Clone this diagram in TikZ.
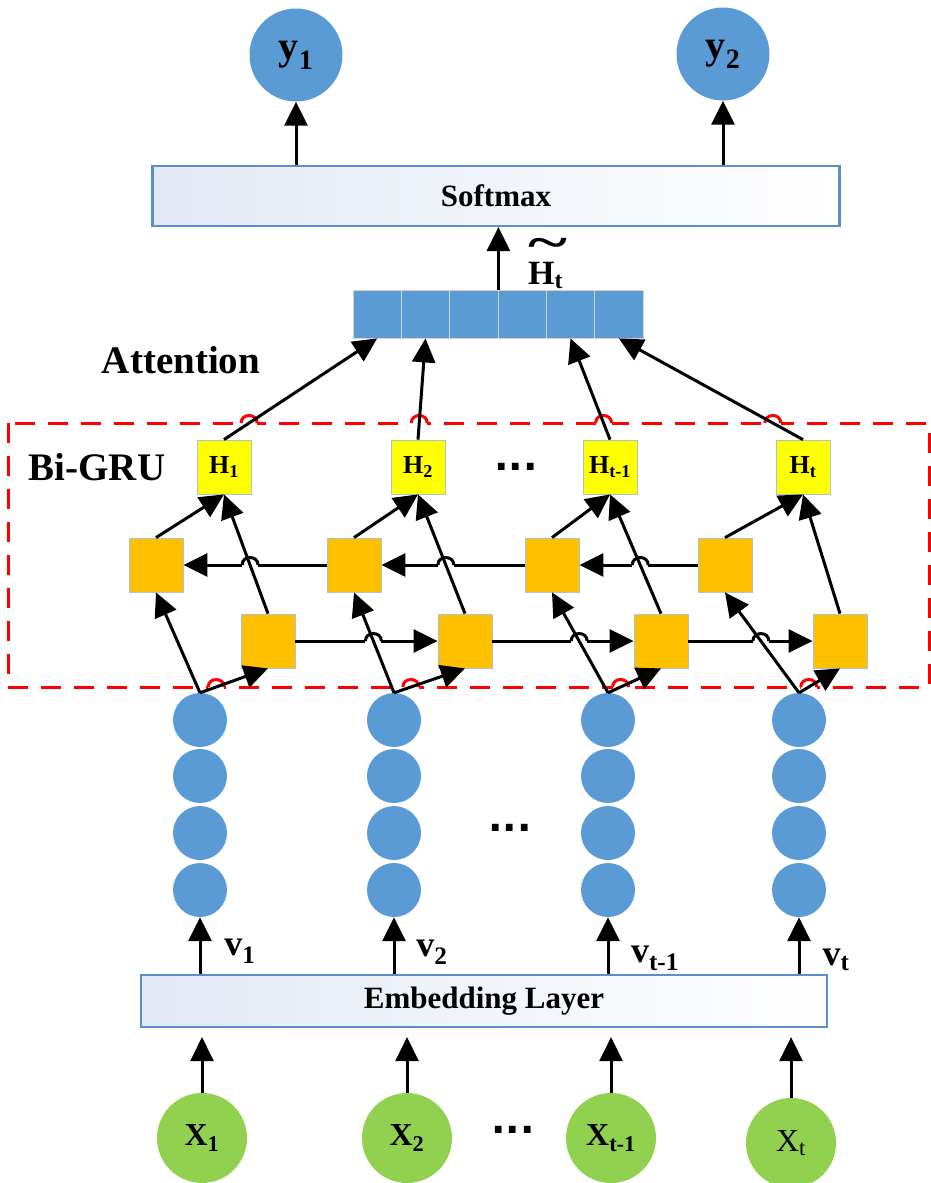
\documentclass[tikz,border=0pt]{standalone}
\usepackage{fontspec}
\setmainfont{Liberation Serif}
\newfontfamily\dotsfont{DejaVu Sans}
\usetikzlibrary{arrows.meta}
\definecolor{nodeblue}{HTML}{5B9BD5}
\definecolor{nodegreen}{HTML}{92D050}
\definecolor{gruorange}{HTML}{FFC000}
\definecolor{hidyellow}{HTML}{FFFF00}
\definecolor{boxline}{HTML}{5B8FC9}
\definecolor{boxfill}{HTML}{E2E9F5}
\definecolor{thinline}{HTML}{A9C2DA}
\newcommand{\fsize}[1]{\fontsize{#1}{#1}\selectfont}
%% small bump where one line jumps over another
\newcommand{\linejump}[2]{%
  \draw[white,line width=5pt] ([xshift=-8pt]#2) -- ([xshift=8pt]#2);
  \draw[#1,line width=3pt] ([xshift=-8pt]#2) .. controls ([xshift=-8pt,yshift=10pt]#2) and ([xshift=8pt,yshift=10pt]#2) .. ([xshift=8pt]#2);}

\begin{document}
\begin{tikzpicture}
[x=1pt,y=-1pt,
 arrowline/.style={line width=3pt,-{Triangle[length=24pt,width=23pt]}},
 outcircle/.style={circle,fill=nodeblue,minimum size=93pt,inner sep=0pt,font=\fsize{40}\bfseries},
 incircle/.style={circle,fill=nodegreen,minimum size=90pt,inner sep=0pt,font=\fsize{32}\bfseries},
 unitcircle/.style={circle,fill=nodeblue,minimum size=54pt,inner sep=0pt},
 layerbox/.style={rectangle,draw=boxline,line width=2.2pt,left color=boxfill,middle color=white,right color=white,inner sep=0pt,font=\fsize{31}\bfseries},
 vcell/.style={rectangle,fill=nodeblue,draw=gray!35,line width=0.8pt,minimum width=48.33pt,minimum height=48pt,inner sep=0pt},
 hbox/.style={rectangle,fill=hidyellow,draw=thinline,line width=0.8pt,minimum size=54pt,inner sep=0pt,font=\fsize{26}\bfseries},
 gbox/.style={rectangle,fill=gruorange,draw=thinline,line width=0.8pt,minimum size=54pt,inner sep=0pt},
 titlelabel/.style={font=\fsize{39}\bfseries},
 vlabel/.style={font=\fsize{36}\bfseries},
 dotslabel/.style={font=\dotsfont\fsize{38}\bfseries},
 gruframe/.style={draw=red,line width=3pt,dash pattern=on 20pt off 13pt}]
\useasboundingbox (0,0) rectangle (931,1183);

%% output layer
\node[outcircle] (y1) at (296,55) {y\textsubscript{1}};
\node[outcircle] (y2) at (723,54) {y\textsubscript{2}};
\node[layerbox,minimum width=687pt,minimum height=60pt] (softmax) at (496,196) {Softmax};
\foreach \i in {1,...,6}
{
  \node[vcell] (c\i) at (353+48.33*\i-24.17,314) {};
}
\node[font=\fsize{34}\bfseries,anchor=base west,inner sep=0pt] (htilde) at (528,284)
  {\makebox[0pt][l]{\raisebox{0.74em}{\scalebox{2.2}[1.4]{\textasciitilde}}}H\textsubscript{t}};
\node[titlelabel] (attn) at (181,360) {Attention};

%% Bi-GRU layer
\node[titlelabel] (bigru) at (97,467) {Bi-GRU};
\foreach \n/\hx/\bx/\fx/\ex/\s in {1/224/156/268/200/1, 2/418/354/465/394/2, 3/610/552/661/608/t-1, 4/803/725/840/799/t}
{
  \node[hbox] (h\n) at (\hx,467) {H\textsubscript{\s}};
  \node[gbox] (b\n) at (\bx,565) {};
  \node[gbox] (f\n) at (\fx,641) {};
  \foreach \r/\ry in {1/720,2/776,3/833,4/890}
    \node[unitcircle] (e\n\r) at (\ex,\ry) {};
}
\node[dotslabel] (hdots) at (516,467) {...};
\node[dotslabel] (edots) at (510,828) {...};

%% embedding and inputs
\node[layerbox,minimum width=686pt,minimum height=52pt] (embed) at (484,1001) {Embedding Layer};
\node[vlabel] (v1) at (240,951) {v\textsubscript{1}};
\node[vlabel] (v2) at (432,952) {v\textsubscript{2}};
\node[vlabel] (v3) at (655,958) {v\textsubscript{t-1}};
\node[vlabel] (v4) at (836,960) {v\textsubscript{t}};
\node[incircle] (x1) at (202,1138) {X\textsubscript{1}};
\node[incircle] (x2) at (407,1138) {X\textsubscript{2}};
\node[incircle] (x3) at (611,1138) {X\textsubscript{t-1}};
\node[incircle,font=\fsize{32}] (x4) at (791,1143) {X\textsubscript{t}};
\node[dotslabel] (xdots) at (513,1130) {...};

%% dashed frame of the Bi-GRU
\coordinate (ftl) at (8,423);
\coordinate (ftr) at (929,423);
\coordinate (fbl) at (8,687);
\coordinate (fbr) at (929,687);
\draw[gruframe] (ftl) rectangle (fbr);
\foreach \n/\c in {1/1,2/2,3/5,4/6}
{
  \coordinate (jt) at (intersection of h\n.north--c\c.south and ftl--ftr);
  \linejump{red}{jt}
  \coordinate (jd) at (intersection of e\n1.north--f\n.south and fbl--fbr);
  \linejump{red}{jd}
}

%% recurrent connections
\foreach \a/\b in {1/2,2/3,3/4}
{
  \draw[arrowline] (f\a.east) -- (f\b.west);
  \draw[arrowline] (b\b.west) -- (b\a.east);
  \coordinate (jf) at (intersection of f\a.east--f\b.west and e\b1.north--b\b.south);
  \linejump{black}{jf}
  \coordinate (jb) at (intersection of b\b.west--b\a.east and f\a.north--h\a.south);
  \linejump{black}{jb}
}

%% upward connections
\foreach \n/\c in {1/1,2/2,3/5,4/6}
{
  \draw[arrowline] (e\n1.north) -- (b\n.south);
  \draw[arrowline] (e\n1.north) -- (f\n.south);
  \draw[arrowline] (b\n.north) -- (h\n.south);
  \draw[arrowline] (f\n.north) -- (h\n.south);
  \draw[arrowline] (h\n.north) -- (c\c.south);
  \draw[arrowline] (embed.north -| e\n4) -- (e\n4.south);
  \draw[arrowline,shorten >=9pt] (x\n.north) -- (x\n.north |- embed.south);
}
\draw[arrowline] (c3.north east) -- (c3.north east |- softmax.south);
\draw[arrowline] (softmax.north -| y1) -- (y1.south);
\draw[arrowline] (softmax.north -| y2) -- (y2.south);
\end{tikzpicture}
\end{document}
